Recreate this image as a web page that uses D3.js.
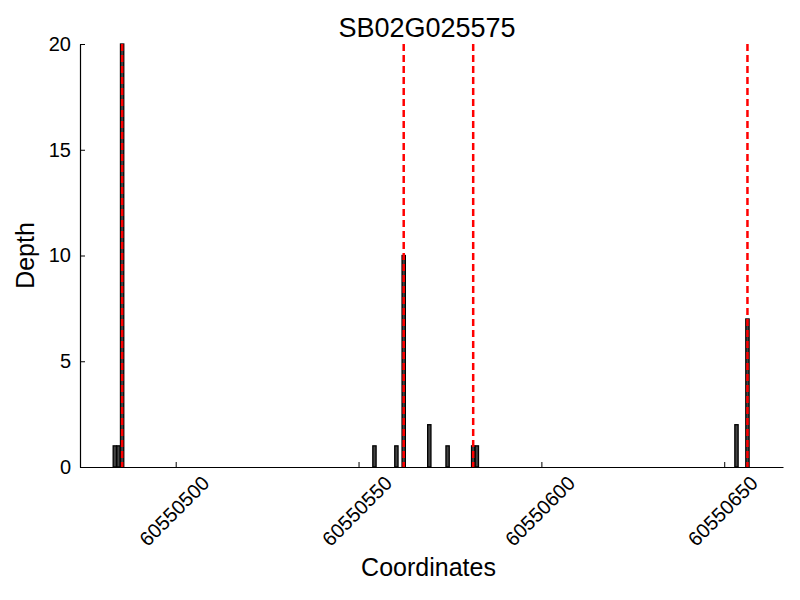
<!DOCTYPE html>
<html>
<head>
<meta charset="utf-8">
<script src="https://cdn.jsdelivr.net/npm/d3@7"></script>
<style>
  body { margin: 0; background: #fff; }
  text { font-family: "Liberation Sans", Arial, sans-serif; }
</style>
</head>
<body>
<svg id="chart" width="800" height="600"></svg>
<script>
// read depth values
var positions = [60550483, 60550484, 60550485, 60550554, 60550560, 60550562, 60550569, 60550574, 60550581, 60550582, 60550653, 60550656];
var depths = [1, 1, 20, 1, 1, 10, 2, 1, 1, 1, 2, 7];
var markers = [60550485, 60550562, 60550581, 60550656];
var xTicks = [60550500, 60550550, 60550600, 60550650];
var yTicks = [0, 5, 10, 15, 20];
var title = "SB02G025575";

var svg = d3.select("#chart");
const margin = { top: 44, right: 17, bottom: 133, left: 80 };
const width = 800, height = 600;
const innerWidth = width - margin.left - margin.right;
const innerHeight = height - margin.top - margin.bottom;

var data = positions.map(function (p, i) { return { pos: p, depth: depths[i] }; });

var xScale = d3.scaleLinear()
    .domain([60550473.83, 60550666.07])
    .range([0, innerWidth]);
var yScale = d3.scaleLinear()
    .domain([0, 20])
    .range([innerHeight, 0]);

var g = svg.append("g").attr("transform", `translate(${margin.left},${margin.top})`);

var barStart = -0.1, barW = 0.9;

// bars
g.selectAll(".bar")
    .data(data)
    .enter()
    .append("rect")
    .attr("class", "bar")
    .attr("x", d => xScale(d.pos + barStart))
    .attr("width", d => xScale(d.pos + barStart + barW) - xScale(d.pos + barStart))
    .attr("y", d => yScale(d.depth))
    .attr("height", d => yScale(0) - yScale(d.depth))
    .attr("fill", "#444")
    .attr("stroke", "black")
    .attr("stroke-width", 1.3);

// red dashed markers
g.selectAll(".marker")
    .data(markers)
    .enter()
    .append("line")
    .attr("x1", d => xScale(d + barStart + barW / 2))
    .attr("x2", d => xScale(d + barStart + barW / 2))
    .attr("y1", 0)
    .attr("y2", innerHeight)
    .attr("stroke", "red")
    .attr("stroke-width", 2.5)
    .attr("stroke-dasharray", "7,4");

// x axis
var xAxis = g.append("g")
    .attr("transform", `translate(0,${innerHeight})`)
    .call(d3.axisBottom(xScale).tickValues(xTicks).tickSizeInner(-5).tickSizeOuter(0).tickFormat(d3.format("d")));
xAxis.select(".domain").attr("stroke", "black").attr("stroke-width", 1.2);
xAxis.selectAll(".tick text")
    .attr("font-size", 20)
    .attr("fill", "black")
    .attr("text-anchor", "middle")
    .attr("dominant-baseline", "central")
    .attr("y", 0)
    .attr("dy", 0)
    .attr("transform", "translate(-2,44) rotate(-45)");

// y axis
var yAxis = g.append("g")
    .call(d3.axisLeft(yScale).tickValues(yTicks).tickSizeInner(-5).tickSizeOuter(0));
yAxis.select(".domain").attr("stroke", "black").attr("stroke-width", 1.2);
yAxis.selectAll(".tick text")
    .attr("font-size", 20)
    .attr("fill", "black")
    .attr("x", -9);

// labels
svg.append("text")
    .attr("x", margin.left + innerWidth / 2 - 3)
    .attr("y", 576)
    .style("text-anchor", "middle")
    .attr("font-size", 25)
    .text("Coordinates");

svg.append("text")
    .attr("transform", "rotate(-90)")
    .attr("x", -(margin.top + innerHeight / 2))
    .attr("y", 34)
    .style("text-anchor", "middle")
    .attr("font-size", 25)
    .text("Depth");

svg.append("text")
    .attr("x", 427)
    .attr("y", 37)
    .style("text-anchor", "middle")
    .attr("font-size", 27)
    .text(title);
</script>
</body>
</html>
